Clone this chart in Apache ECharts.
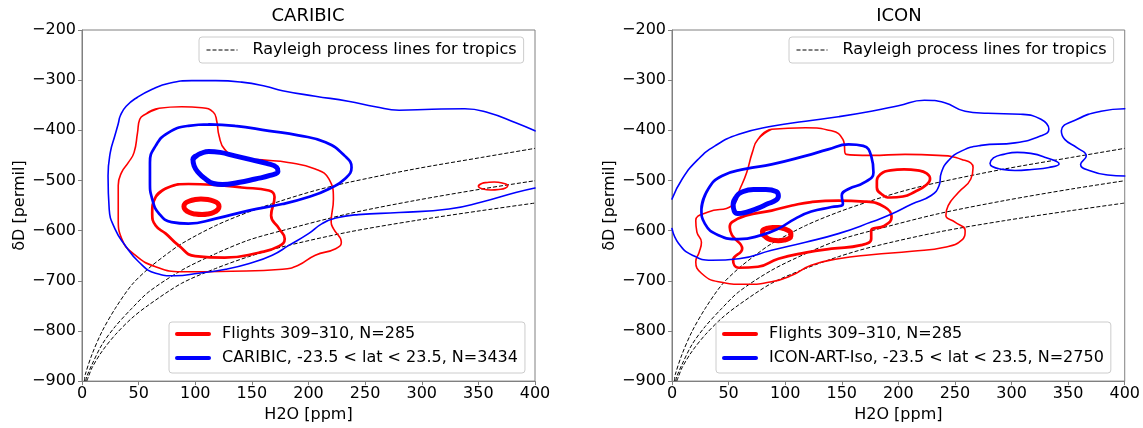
<!DOCTYPE html>
<html>
<head>
<meta charset="utf-8">
<script src="https://cdn.jsdelivr.net/npm/echarts@6/dist/echarts.min.js"></script>
<style>
  html, body { margin: 0; padding: 0; background: #fff; }
  #main { width: 1143px; height: 428px; }
</style>
</head>
<body>
<div id="main"></div>
<script>
// ---- data: [H2O ppm, deltaD permil] ----
var panelTitles = ['CARIBIC', 'ICON'];
var flightsName = 'Flights 309\u2013310, N=285';
var caribicName = 'CARIBIC, -23.5 < lat < 23.5, N=3434';
var iconName = 'ICON-ART-Iso, -23.5 < lat < 23.5, N=2750';
var rayleighName = 'Rayleigh process lines for tropics';

// Rayleigh process lines (same in both panels)
var rayleighTop = [[2.2,-900],[2.9,-887],[8.8,-847],[17.7,-801],[29.4,-755],[44,-708],[59,-675],[73.6,-649],[88,-626],[118,-590],[147,-563],[176.6,-540],[206,-520],[235,-504],[294,-477],[353,-454],[400,-436]];
var rayleighMid = [[3.2,-900],[4.4,-890],[8.8,-867],[17.7,-827],[29.4,-791],[44,-755],[59,-722],[88,-679],[118,-646],[147,-619],[176.6,-600],[235,-566.5],[294,-540],[353,-517],[400,-500.5]];
var rayleighLow = [[4.2,-900],[5.9,-890],[8.8,-873.6],[17.7,-840.6],[29.4,-807.6],[44,-774.5],[59,-748],[88,-705],[118,-675.5],[147,-652],[176.6,-632.5],[235,-603],[294,-580],[353,-560],[400,-545]];

// CARIBIC panel contours
var caribicBlueOuter = [[400,-401],[383,-385],[359,-365],[338,-357],[309,-358],[280,-360],[259,-353],[235,-342],[206,-332],[177,-321],[162,-312],[141,-304],[118,-301],[97,-301],[77,-306],[62,-318],[49,-334],[39,-352],[34,-370],[32,-387],[29,-411],[25,-444],[23,-491],[24,-557],[29,-596],[38,-629],[50,-662],[65,-685],[82,-690],[103,-685],[127,-677],[147,-666],[168,-649],[183,-629],[200,-606],[212,-586],[224,-575],[244,-568],[280,-564],[324,-557],[353,-543],[383,-524],[400,-515]];
var caribicBlueMid = [[112,-388],[135,-391],[165,-401],[191,-410],[215,-424],[232,-451],[238,-474],[232,-497],[218,-517],[200,-533],[177,-547],[147,-560],[118,-576],[94,-586],[79,-583],[68,-566],[62,-537],[60,-504],[60,-464],[65,-431],[76,-405],[94,-391]];
var caribicBlueInner = [[98,-458],[101,-451],[105,-446],[112,-442],[122,-444],[135,-451],[150,-459],[163,-466],[172,-474],[173,-482],[166,-490],[153,-497],[138,-504],[124,-508],[116,-506],[109,-497],[103,-485],[99,-471]];
var caribicRedOuter = [[56,-368],[68,-356],[88,-353],[106,-355],[116,-364],[119,-382],[121,-411],[126,-438],[138,-454],[159,-459],[182,-464],[206,-477],[218,-497],[222,-537],[220,-583],[222,-596],[229,-623],[224,-636],[206,-649],[191,-669],[177,-677],[132,-681],[88,-682],[65,-672],[47,-649],[35,-616],[32,-576],[32,-510],[35,-484],[41,-464],[46,-444],[49,-405],[51,-378]];
var caribicRedMid = [[65,-533],[76,-514],[94,-507],[118,-509],[141,-514],[165,-520],[170,-533],[167,-570],[174,-596],[179,-616],[174,-631],[156,-644],[126,-654],[100,-651],[85,-629],[74,-606],[65,-590],[62,-566]];
var caribicRedInner = [[121,-552],[120,-546],[116,-541],[111,-538],[105,-537],[100,-538],[95,-541],[91,-546],[90,-552],[91,-558],[95,-564],[100,-567],[106,-568],[111,-567],[116,-564],[120,-558]];
var caribicRedSmall = [[350,-511],[353,-506],[358,-504],[364,-503],[371,-505],[376,-510],[374,-515],[368,-518],[361,-519],[354,-517]];

// ICON panel contours
var iconBlueOuter = [[0,-537],[9,-497],[23,-458],[38,-431],[59,-408],[88,-392],[118,-382],[147,-373],[176,-362],[200,-351],[223,-340],[241,-345],[259,-362],[279,-366],[308,-368],[326,-378],[333,-398],[326,-411],[303,-425],[273,-430],[256,-441],[244,-461],[238,-484],[236,-510],[229,-530],[212,-547],[194,-567],[176,-583],[147,-606],[118,-623],[88,-639],[59,-656],[35,-659],[18,-649],[6,-626],[0,-596]];
var iconBlueEdge = [[400,-357],[379,-362],[358,-378],[344,-401],[347,-418],[358,-435],[366,-451],[361,-468],[370,-481],[385,-489],[400,-491]];
var iconBlueSmall = [[281,-466],[284,-455],[293,-448],[305,-444],[317,-446],[330,-454],[342,-467],[333,-474],[318,-478],[303,-480],[290,-477],[283,-472]];
var iconBlueMid = [[26,-557],[32,-517],[44,-491],[65,-477],[88,-468],[118,-451],[138,-438],[156,-428],[169,-431],[176,-451],[178,-484],[170,-504],[156,-517],[150,-530],[151,-547],[141,-553],[123,-562],[109,-576],[94,-596],[79,-609],[59,-617],[41,-609],[29,-586]];
var iconBlueInner = [[54,-548],[57,-532],[61,-524],[72,-518],[83,-518],[92,-522],[94,-531],[92,-539],[85,-546],[75,-556],[66,-563],[58,-566],[55,-561]];
var iconRedOuter = [[76,-418],[88,-398],[118,-395],[141,-401],[151,-418],[154,-448],[176,-450],[206,-448],[235,-450],[256,-458],[266,-474],[264,-497],[253,-524],[244,-550],[242,-570],[250,-583],[259,-600],[256,-619],[241,-633],[212,-641],[176,-648],[147,-656],[123,-669],[106,-689],[88,-702],[65,-707],[41,-702],[26,-685],[21,-662],[24,-643],[26,-623],[22,-603],[21,-580],[32,-563],[53,-550],[60,-517],[66,-484],[71,-444]];
var iconRedMid = [[53,-583],[65,-570],[88,-560],[106,-550],[123,-543],[147,-540],[170,-542],[188,-553],[194,-573],[188,-590],[176,-600],[176,-616],[167,-629],[141,-636],[118,-644],[94,-656],[76,-672],[59,-674],[54,-659],[62,-636],[53,-609],[51,-593]];
var iconRedInner = [[80,-601],[82,-597],[85,-595],[89,-594],[94,-594],[99,-596],[103,-600],[105,-605],[105,-611],[103,-616],[99,-619],[94,-620],[89,-619],[85,-616],[82,-611],[80,-606]];
var iconRedSide = [[181,-500],[184,-488],[193,-480],[205,-478],[217,-480],[225,-486],[228,-497],[224,-510],[215,-522],[204,-532],[193,-534],[185,-527],[181,-514]];

var RED = '#ff0000', BLUE = '#0000ff';
var FONT = 'DejaVu Sans';

function contour(name, data, color, width, panel, closed) {
    // closed contours wrap round by two points so the join is smooth too
    var pts = closed ? data.concat([data[0], data[1]]) : data;
    return {
        name: name, type: 'line', data: pts,
        xAxisIndex: panel, yAxisIndex: panel,
        symbol: 'none', smooth: 0.5, clip: true, silent: true,
        itemStyle: { color: color },
        lineStyle: { color: color, width: width, join: 'round', cap: 'round' }
    };
}

function rayleigh(data, panel) {
    return {
        name: rayleighName, type: 'line', data: data,
        xAxisIndex: panel, yAxisIndex: panel,
        symbol: 'none', smooth: 0.3, clip: true, silent: true,
        itemStyle: { color: '#000' },
        lineStyle: { color: '#000', width: 1, type: [4, 2] }
    };
}

var series = [
    rayleigh(rayleighTop, 0), rayleigh(rayleighMid, 0), rayleigh(rayleighLow, 0),
    contour(flightsName, caribicRedOuter, RED, 1.6, 0, true),
    contour(flightsName, caribicRedMid, RED, 2.7, 0, true),
    contour(flightsName, caribicRedInner, RED, 5, 0, true),
    contour(flightsName, caribicRedSmall, RED, 1.6, 0, true),
    contour(caribicName, caribicBlueOuter, BLUE, 1.6, 0, false),
    contour(caribicName, caribicBlueMid, BLUE, 2.7, 0, true),
    contour(caribicName, caribicBlueInner, BLUE, 5, 0, true),

    rayleigh(rayleighTop, 1), rayleigh(rayleighMid, 1), rayleigh(rayleighLow, 1),
    contour(flightsName, iconRedOuter, RED, 1.6, 1, true),
    contour(flightsName, iconRedMid, RED, 2.7, 1, true),
    contour(flightsName, iconRedInner, RED, 5, 1, true),
    contour(flightsName, iconRedSide, RED, 2.7, 1, true),
    contour(iconName, iconBlueOuter, BLUE, 1.6, 1, false),
    contour(iconName, iconBlueEdge, BLUE, 1.6, 1, false),
    contour(iconName, iconBlueSmall, BLUE, 1.6, 1, true),
    contour(iconName, iconBlueMid, BLUE, 2.7, 1, true),
    contour(iconName, iconBlueInner, BLUE, 5, 1, true)
];

function minus(v) { return String(v).replace('-', '\u2212'); }

var axisCommon = {
    axisLine: { show: true, onZero: false, lineStyle: { color: '#808080', width: 1 } },
    axisTick: { show: true, length: 4, lineStyle: { color: '#808080' } },
    splitLine: { show: false },
    nameTextStyle: { fontFamily: FONT, fontSize: 16, color: '#000' }
};

function xAxis(panel) {
    return Object.assign({}, axisCommon, {
        gridIndex: panel, type: 'value', min: 0, max: 400, interval: 50,
        name: 'H2O [ppm]', nameLocation: 'middle', nameGap: 15,
        axisLabel: { fontFamily: FONT, fontSize: 16, color: '#000', margin: 5 }
    });
}
function yAxis(panel) {
    return Object.assign({}, axisCommon, {
        gridIndex: panel, type: 'value', min: -900, max: -200, interval: 100,
        name: '\u03b4D [permil]', nameLocation: 'middle', nameGap: 53, nameRotate: 90,
        axisLabel: { fontFamily: FONT, fontSize: 16, color: '#000', margin: 6, formatter: minus }
    });
}

// legend symbol hidden, only the line sample is kept
var legendBox = {
    backgroundColor: 'rgba(255,255,255,0.8)', borderColor: '#cccccc', borderWidth: 1, borderRadius: 3,
    selectedMode: false, itemHeight: 14,
    itemStyle: { opacity: 0, borderWidth: 0 }
};
function topLegend(left) {
    return Object.assign({}, legendBox, {
        data: [rayleighName], left: left, top: 37, padding: [5, 7, 5, 7], itemWidth: 31,
        lineStyle: { width: 1, type: [4, 2], color: '#000' },
        textStyle: { fontFamily: FONT, fontSize: 16, color: '#000', padding: [0, 0, 0, 10] }
    });
}
function bottomLegend(left, names) {
    return Object.assign({}, legendBox, {
        data: names, left: left, top: 322, orient: 'vertical', itemGap: 8, itemHeight: 16,
        padding: [4, 7, 7, 6], itemWidth: 32,
        lineStyle: { width: 4 },
        textStyle: { fontFamily: FONT, fontSize: 16, color: '#000', padding: [0, 0, 0, 8] }
    });
}

var chart = echarts.init(document.getElementById('main'), null, { renderer: 'canvas' });
chart.setOption({
    animation: false,
    backgroundColor: '#fff',
    title: [
        { text: panelTitles[0], left: 308, top: 7, textAlign: 'center', padding: 0,
          textStyle: { fontFamily: FONT, fontSize: 18, fontWeight: 'normal', color: '#000' } },
        { text: panelTitles[1], left: 899, top: 7, textAlign: 'center', padding: 0,
          textStyle: { fontFamily: FONT, fontSize: 18, fontWeight: 'normal', color: '#000' } }
    ],
    grid: [
        { left: 82, top: 30, width: 453, height: 353, show: true, borderColor: '#808080', borderWidth: 1, backgroundColor: 'transparent' },
        { left: 672, top: 30, width: 454, height: 353, show: true, borderColor: '#808080', borderWidth: 1, backgroundColor: 'transparent' }
    ],
    xAxis: [xAxis(0), xAxis(1)],
    yAxis: [yAxis(0), yAxis(1)],
    legend: [
        topLegend(199),
        bottomLegend(169, [flightsName, caribicName]),
        topLegend(789),
        bottomLegend(716, [flightsName, iconName])
    ],
    series: series
});
</script>
</body>
</html>
